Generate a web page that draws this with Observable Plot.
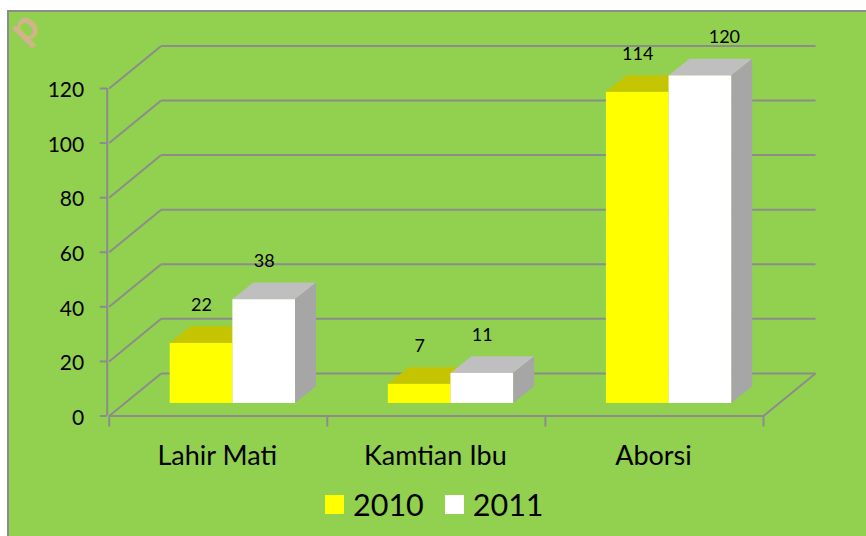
<!DOCTYPE html>
<html>
<head>
<meta charset="utf-8">
<script src="https://cdn.jsdelivr.net/npm/d3@7"></script>
<script src="https://cdn.jsdelivr.net/npm/@observablehq/plot@0.6"></script>
<style>
  html, body { margin: 0; padding: 0; background: #fff; overflow: hidden; }
  #frame { position: absolute; left: 7px; top: 10px; width: 859px; height: 526px; background: #92D050; border-left: 2px solid #8c8c8c; border-top: 2px solid #8c8c8c; box-sizing: border-box; }
  #chart { position: absolute; left: 0; top: 0; width: 866px; }
  #chart svg { display: block; background: transparent; }
  #legend { display: flex; align-items: center; height: 48px; padding-left: 325px; font: 30.5px Lato, sans-serif; color: #000; }
  #legend i { display: inline-block; width: 19px; height: 19px; margin-right: 9px; }
  #legend span { margin-right: 21px; }
</style>
</head>
<body>
<div id="frame"></div>
<div id="chart"></div>
<script>
const categories = ["Lahir Mati", "Kamtian Ibu", "Aborsi"];
const series = ["2010", "2011"];
const values2010 = [22, 7, 114];
const values2011 = [38, 11, 120];
const yTicks = [0, 20, 40, 60, 80, 100, 120];
const frontColors = {"2010": "#FFFF00", "2011": "#FFFFFF"};
const topColors = {"2010": "#C4C400", "2011": "#BFBFBF"};
const sideColors = {"2010": "#A6A600", "2011": "#A6A6A6"};

// Oblique depth, in data units (categories along x, counts along y)
const wallDepth = {x: 0.2383, y: 15.6};
const barInset = {x: 0.0642, y: 4.6};
const barDepth = {x: 0.0962, y: 6.1};
const barWidth = 0.2873;
const groupStart = 0.2155;

const bars = [];
series.forEach((s, si) => {
  const vals = si === 0 ? values2010 : values2011;
  categories.forEach((c, i) => {
    const x0 = i + groupStart + si * barWidth + barInset.x;
    bars.push({s, c, v: vals[i], x0, x1: x0 + barWidth, b: barInset.y, t: vals[i] + barInset.y,
      // the 120 label sits moved to the right in the source chart
      labelDx: vals[i] === 120 ? 24 : 0});
  });
});

// Each face is a two-point Plot.area (a quad between two edges)
const quads = (faceFn) => bars.flatMap((b, k) => faceFn(b).map(p => ({...p, k, s: b.s})));
const topFace = b => [
  {xa: b.x0, ya: b.t, xb: b.x0 + barDepth.x, yb: b.t + barDepth.y},
  {xa: b.x1, ya: b.t, xb: b.x1 + barDepth.x, yb: b.t + barDepth.y}
];
const sideFace = b => [
  {xa: b.x1, ya: b.b, xb: b.x1 + barDepth.x, yb: b.b + barDepth.y},
  {xa: b.x1, ya: b.t, xb: b.x1 + barDepth.x, yb: b.t + barDepth.y}
];
const faceMark = (data, colors) => Plot.area(data, {
  x1: "xa", y1: "ya", x2: "xb", y2: "yb", z: "k", curve: "linear",
  fill: d => colors[d.s]
});

const gridColor = "#8c8c8c";
const xMax = categories.length;
const gridFront = yTicks.map(y => ({y}));

const marks = [
  // wall grid: diagonal part on the side wall, then the back wall
  Plot.link(gridFront, {x1: 0, y1: "y", x2: wallDepth.x, y2: d => d.y + wallDepth.y, stroke: gridColor, strokeWidth: 2}),
  Plot.link(gridFront, {x1: wallDepth.x, y1: d => d.y + wallDepth.y, x2: xMax + wallDepth.x, y2: d => d.y + wallDepth.y, stroke: gridColor, strokeWidth: 2}),
  // floor front and right edges
  Plot.link([0], {x1: 0, y1: 0, x2: xMax, y2: 0, stroke: gridColor, strokeWidth: 2}),
  Plot.link([0], {x1: xMax, y1: 0, x2: xMax + wallDepth.x, y2: wallDepth.y, stroke: gridColor, strokeWidth: 2}),
  // vertical axis
  Plot.ruleX([0], {y1: 0, y2: 120, stroke: gridColor, strokeWidth: 2, dx: -2}),
  Plot.axisY({ticks: yTicks, tickSize: 7, tickFormat: () => "", stroke: gridColor, strokeWidth: 2, dx: -2, label: null}),
  Plot.axisY({ticks: yTicks, tickSize: 0, tickPadding: 23, dx: -2, dy: 2, fill: "#000", fontSize: 21, label: null}),
  // category ticks and labels
  Plot.axisX({ticks: d3.range(xMax + 1), tickSize: 11, tickFormat: () => "", stroke: gridColor, strokeWidth: 2, label: null}),
  Plot.axisX({ticks: categories.map((c, i) => i + 0.5), tickSize: 0, tickPadding: 30, dx: -1, tickFormat: d => categories[d - 0.5], fill: "#000", fontSize: 27, label: null})
];

// Draw bars series by series so 2011 overlaps 2010
series.forEach(s => {
  const keep = d => d.s === s;
  marks.push(
    faceMark(quads(topFace).filter(keep), topColors),
    faceMark(quads(sideFace).filter(keep), sideColors),
    Plot.rect(bars.filter(keep), {x1: "x0", x2: "x1", y1: "b", y2: "t", fill: d => frontColors[d.s], inset: 0})
  );
});

bars.forEach(b => marks.push(
  Plot.text([b], {x: d => (d.x0 + d.x1) / 2, y: "t", text: "v", dx: b.labelDx, dy: -38.5, fill: "#000", fontSize: 18})
));

// pink corner watermark: only the one glyph that can be made out in the reference
marks.push(Plot.text(["p"], {frameAnchor: "top-left", dx: -85, dy: -61, rotate: -45, textAnchor: "middle", lineAnchor: "middle", fill: "#FFA0B4", fillOpacity: 0.6, fontSize: 42, fontWeight: "bold"}));

const plot = Plot.plot({
  width: 866, height: 480,
  marginLeft: 108.7, marginRight: 103, marginTop: 88, marginBottom: 64.5,
  style: {fontFamily: "Lato, sans-serif", background: "transparent", overflow: "visible"},
  x: {type: "linear", domain: [0, xMax], axis: null},
  y: {type: "linear", domain: [0, 120], axis: null},
  marks
});
const host = document.getElementById("chart");
host.appendChild(plot);
const legend = document.createElement("div");
legend.id = "legend";
series.forEach(s => {
  const sw = document.createElement("i");
  sw.style.background = frontColors[s];
  const t = document.createElement("span");
  t.textContent = s;
  legend.append(sw, t);
});
host.appendChild(legend);
</script>
</body>
</html>
